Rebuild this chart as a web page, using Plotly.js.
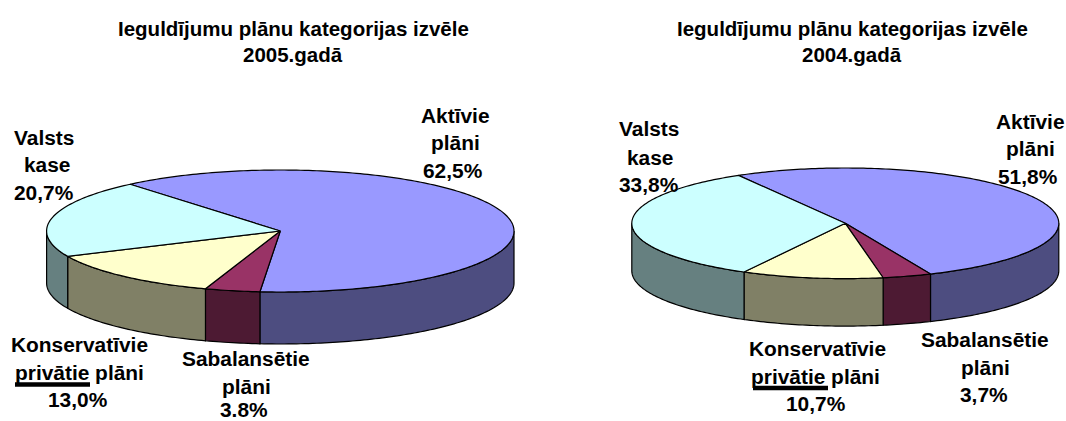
<!DOCTYPE html>
<html>
<head>
<meta charset="utf-8">
<script src="https://cdn.plot.ly/plotly-3.0.1.min.js"></script>
<style>html,body{margin:0;padding:0;background:#fff;overflow:hidden}</style>
</head>
<body>
<div id="chart" style="width:1066px;height:421px"></div>
<script>
// Data
const categories = ["Aktīvie plāni", "Sabalansētie plāni", "Konservatīvie privātie plāni", "Valsts kase"];
const values2005 = [62.5, 3.8, 13.0, 20.7];
const values2004 = [51.8, 3.7, 10.7, 33.8];
const titles = ["Ieguldījumu plānu kategorijas izvēle", "2005.gadā", "2004.gadā"];
const labels2005 = [["Aktīvie", "plāni", "62,5%"], ["Sabalansētie", "plāni", "3.8%"], ["Konservatīvie", "privātie plāni", "13,0%"], ["Valsts", "kase", "20,7%"]];
const labels2004 = [["Aktīvie", "plāni", "51,8%"], ["Sabalansētie", "plāni", "3,7%"], ["Konservatīvie", "privātie plāni", "10,7%"], ["Valsts", "kase", "33,8%"]];

// Styles and layout
const topColors = ["#9999ff", "#993366", "#ffffcc", "#ccffff"];
const sideColors = ["#4d4d80", "#4d1a33", "#808066", "#668080"];
const FONT = "Liberation Sans, Arial, sans-serif";
const TITLE_SIZE = 20.5;
const LABEL_SIZE = 20.9;
const pie2005 = {cx: 280.3, cy: 231, rx: 233.7, ry: 61, depth: 52, start: 320};
const pie2004 = {cx: 845.3, cy: 223.3, rx: 213.5, ry: 55.3, depth: 47.5, start: 330};
const labelPos2005 = [[[455,115],[455,142],[453,170]], [[246,358],[246,386],[244,409]], [[79,344],[79,372],[78,399]], [[44,137],[47,164],[44,192]]];
const labelPos2004 = [[[1030,121],[1030,148],[1028,176]], [[985,339],[985,367],[984,394]], [[817,348],[815,376],[816,403]], [[649,128],[650,157],[649,184]]];
const titlePos = {t2005: [[293,28],[293,54]], t2004: [[852,28],[852,54]]};
const underlines = [[15,90,384.5],[753,828,388]];

function pt(p, a, dz) {
  const r = a * Math.PI / 180;
  return [p.cx + p.rx * Math.sin(r), p.cy - p.ry * Math.cos(r) + (dz || 0)];
}
function arc(p, a0, a1, dz) {
  const out = [];
  const n = Math.max(2, Math.ceil(Math.abs(a1 - a0)));
  for (let i = 0; i <= n; i++) out.push(pt(p, a0 + (a1 - a0) * i / n, dz));
  return out;
}
function poly(points, fill) {
  return {
    type: "scatter", mode: "lines", hoverinfo: "skip", showlegend: false,
    x: points.map(q => q[0]), y: points.map(q => q[1]),
    fill: "toself", fillcolor: fill,
    line: {color: "#000000", width: 1.2, simplify: false}
  };
}
function pieTraces(p, values) {
  const tops = [], sides = [];
  let a = p.start;
  values.forEach((v, i) => {
    const a0 = a, a1 = a + v * 3.6;
    a = a1;
    [0, 360, 720].forEach(k => {
      const lo = Math.max(a0, 90 + k), hi = Math.min(a1, 270 + k);
      if (lo < hi) {
        const pts = arc(p, lo, hi, 0).concat(arc(p, hi, lo, p.depth));
        pts.push(pts[0]);
        sides.push(poly(pts, sideColors[i]));
      }
    });
    const pts = [[p.cx, p.cy]].concat(arc(p, a0, a1, 0));
    pts.push([p.cx, p.cy]);
    tops.push(poly(pts, topColors[i]));
  });
  return sides.concat(tops);
}
function ann(text, xy, size) {
  return {
    text: "<b>" + text + "</b>", x: xy[0], y: xy[1], xref: "x", yref: "y",
    xanchor: "center", yanchor: "middle", showarrow: false,
    font: {family: FONT, size: size, color: "#000000"}
  };
}
const annotations = [];
annotations.push(ann(titles[0], titlePos.t2005[0], TITLE_SIZE), ann(titles[1], titlePos.t2005[1], TITLE_SIZE));
annotations.push(ann(titles[0], titlePos.t2004[0], TITLE_SIZE), ann(titles[2], titlePos.t2004[1], TITLE_SIZE));
[[labels2005, labelPos2005], [labels2004, labelPos2004]].forEach(([ls, ps]) => {
  ls.forEach((lines, i) => lines.forEach((t, j) => annotations.push(ann(t, ps[i][j], LABEL_SIZE))));
});
const shapes = underlines.map(u => ({
  type: "line", xref: "x", yref: "y", x0: u[0], x1: u[1], y0: u[2], y1: u[2],
  line: {color: "#000000", width: 4.5}
}));
const traces = pieTraces(pie2005, values2005).concat(pieTraces(pie2004, values2004));
const layout = {
  width: 1066, height: 421,
  margin: {l: 0, r: 0, t: 0, b: 0},
  paper_bgcolor: "#ffffff", plot_bgcolor: "#ffffff",
  xaxis: {range: [0, 1066], visible: false, fixedrange: true},
  yaxis: {range: [421, 0], visible: false, fixedrange: true},
  showlegend: false, annotations: annotations, shapes: shapes
};
Plotly.newPlot("chart", traces, layout, {displayModeBar: false, staticPlot: true});
</script>
</body>
</html>
